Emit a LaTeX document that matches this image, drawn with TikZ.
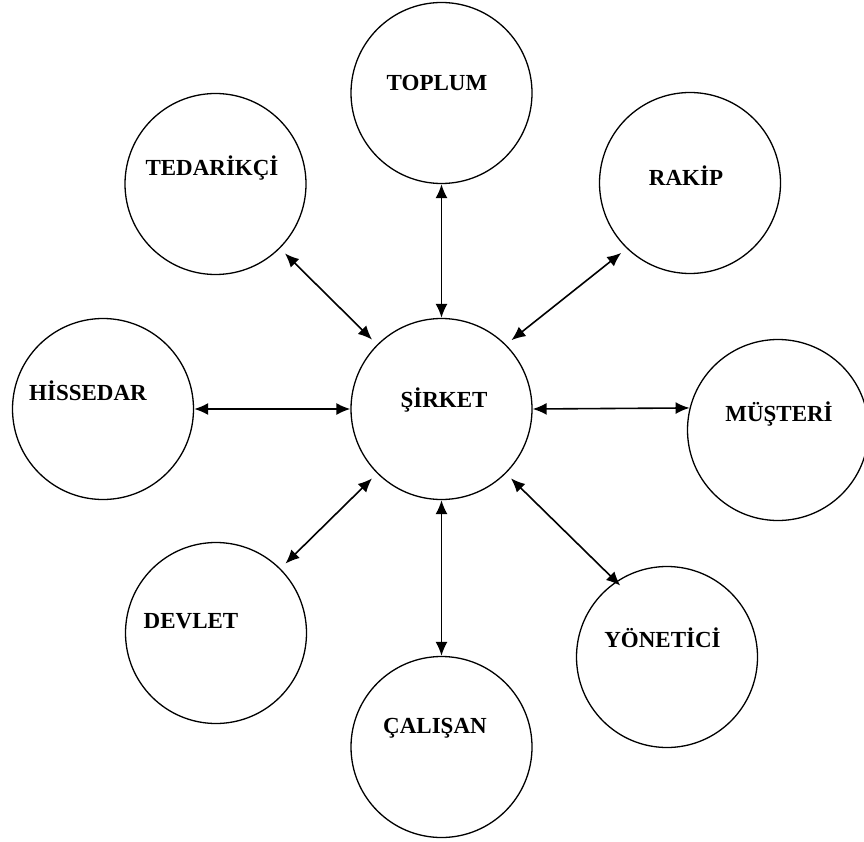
\documentclass[tikz,border=0pt]{standalone}
\usepackage{fontspec}
\setmainfont{Liberation Serif}
\usepackage{tikz}
\usetikzlibrary{arrows.meta}

\begin{document}
\begin{tikzpicture}[
    x=1pt, y=-1pt,
    circ/.style={
      draw, circle, line width=1.3pt, inner sep=0pt, minimum size=181pt
    },
    lbl/.style={
      font=\fontsize{23}{25}\selectfont\bfseries, inner sep=0pt,
      text height=15pt, text depth=0pt
    },
    link/.style={
      {Latex[length=14pt,width=12pt]}-{Latex[length=14pt,width=12pt]},
      line width=1.6pt
    },
  ]
    \useasboundingbox (0,0) rectangle (864,842);

    % circles
    \node[circ](sirket) at (441.5,409) {};
    \node[circ](toplum) at (441.5,93) {};
    \node[circ](rakip) at (690,183) {};
    \node[circ](tedarikci) at (215.5,184) {};
    \node[circ](hissedar) at (103,409) {};
    \node[circ](musteri) at (778,430) {};
    \node[circ](devlet) at (216,633) {};
    \node[circ](calisan) at (441.5,747) {};
    \node[circ](yonetici) at (667,657) {};

    % texts
    \node[lbl](sirket_txt) at (444,400) {ŞİRKET};
    \node[lbl](toplum_txt) at (437,83) {TOPLUM};
    \node[lbl](rakip_txt) at (686,178) {RAKİP};
    \node[lbl](tedarikci_txt) at (212,168) {TEDARİKÇİ};
    \node[lbl](hissedar_txt) at (88,393) {HİSSEDAR};
    \node[lbl](musteri_txt) at (779,414) {MÜŞTERİ};
    \node[lbl](devlet_txt) at (191,621) {DEVLET};
    \node[lbl](calisan_txt) at (435,726) {ÇALIŞAN};
    \node[lbl](yonetici_txt) at (662.5,640) {YÖNETİCİ};

    % connectors
    \draw[link] (toplum) -- (sirket);
    \draw[link] (sirket) -- (calisan);
    \draw[link] (hissedar.east) -- (sirket.west);
    \draw[link] (sirket.east) -- (musteri.166);
    \draw[link, shorten <=7pt, shorten >=7pt] (sirket.135) -- (tedarikci.-45);
    \draw[link, shorten <=7pt, shorten >=7pt] (sirket.45) -- (rakip.226);
    \draw[link, shorten <=7pt, shorten >=7pt] (sirket.225) -- (devlet.45);
    \draw[link, shorten <=7pt, shorten >=-6pt] (sirket.-45) -- (yonetici.124);

  \end{tikzpicture}
\end{document}
